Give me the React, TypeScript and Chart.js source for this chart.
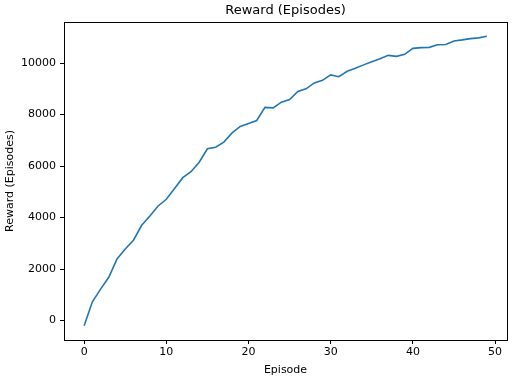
import React, { useEffect, useRef } from "react";
import { Chart, registerables } from "chart.js";

Chart.register(...registerables);

const episodes: number[] = Array.from({ length: 50 }, (_, i) => i);
const rewards: number[] = [
  -200, 730, 1220, 1680, 2390, 2780, 3120, 3700, 4060, 4450,
  4710, 5130, 5550, 5780, 6150, 6670, 6730, 6930, 7290, 7540,
  7650, 7770, 8280, 8260, 8480, 8580, 8900, 9000, 9230, 9330,
  9540, 9470, 9680, 9800, 9930, 10050, 10170, 10300, 10260, 10340,
  10570, 10600, 10610, 10710, 10720, 10860, 10900, 10950, 10980, 11040,
];
const xTicks: number[] = [0, 10, 20, 30, 40, 50];
const yTicks: number[] = [0, 2000, 4000, 6000, 8000, 10000];

const FONT = "'DejaVu Sans', sans-serif";

const framePlugin = {
  id: "frame",
  afterDraw(chart: any) {
    const { ctx, chartArea } = chart;
    ctx.save();
    ctx.strokeStyle = "#000";
    ctx.lineWidth = 1;
    ctx.strokeRect(
      Math.round(chartArea.left) + 0.5,
      Math.round(chartArea.top) + 0.5,
      Math.round(chartArea.right - chartArea.left),
      Math.round(chartArea.bottom - chartArea.top)
    );
    ctx.restore();
  },
};

export default function App() {
  const ref = useRef<HTMLCanvasElement | null>(null);
  useEffect(() => {
    document.body.style.margin = "0";
    if (!ref.current) return;
    const chart = new Chart(ref.current, {
      type: "line",
      data: {
        datasets: [
          {
            data: episodes.map((e, i) => ({ x: e, y: rewards[i] })),
            borderColor: "#1f77b4",
            borderWidth: 1.6,
            pointRadius: 0,
            tension: 0,
            fill: false,
          },
        ],
      },
      options: {
        animation: false,
        responsive: false,
        maintainAspectRatio: false,
        layout: { padding: { left: 0, right: 5, top: 0, bottom: 0 } },
        plugins: {
          legend: { display: false },
          tooltip: { enabled: false },
          title: {
            display: true,
            fullSize: false,
            text: "Reward (Episodes)",
            color: "#000",
            font: { family: FONT, size: 13, weight: "normal", lineHeight: 1.2 },
            padding: { top: 3, bottom: 3.4 },
          },
        },
        scales: {
          x: {
            type: "linear",
            min: -2.45,
            max: 51.45,
            afterBuildTicks: (s: any) => {
              s.ticks = xTicks.map((v) => ({ value: v }));
            },
            afterFit: (s: any) => {
              s.height = 39;
            },
            grid: {
              drawOnChartArea: false,
              drawTicks: true,
              tickLength: 4,
              color: "#000",
            },
            border: { color: "#000", width: 1 },
            ticks: {
              color: "#000",
              font: { family: FONT, size: 11 },
              padding: 2,
              maxRotation: 0,
            },
            title: {
              display: true,
              text: "Episode",
              color: "#000",
              font: { family: FONT, size: 11 },
              padding: { top: 0, bottom: 2 },
            },
          },
          y: {
            type: "linear",
            min: -755,
            max: 11595,
            afterBuildTicks: (s: any) => {
              s.ticks = yTicks.map((v) => ({ value: v }));
            },
            afterFit: (s: any) => {
              s.width = 64;
            },
            grid: {
              drawOnChartArea: false,
              drawTicks: true,
              tickLength: 4,
              color: "#000",
            },
            border: { color: "#000", width: 1 },
            ticks: {
              color: "#000",
              font: { family: FONT, size: 11 },
              padding: 4,
              callback: (v: any) => String(v),
            },
            title: {
              display: true,
              text: "Reward (Episodes)",
              color: "#000",
              font: { family: FONT, size: 11 },
              padding: { top: 4, bottom: 2 },
            },
          },
        },
      },
      plugins: [framePlugin],
    });
    return () => chart.destroy();
  }, []);
  return (
    <div style={{ position: "absolute", left: 0, top: 0, width: 512, height: 379 }}>
      <canvas ref={ref} width={512} height={379} style={{ width: 512, height: 379 }} />
    </div>
  );
}
